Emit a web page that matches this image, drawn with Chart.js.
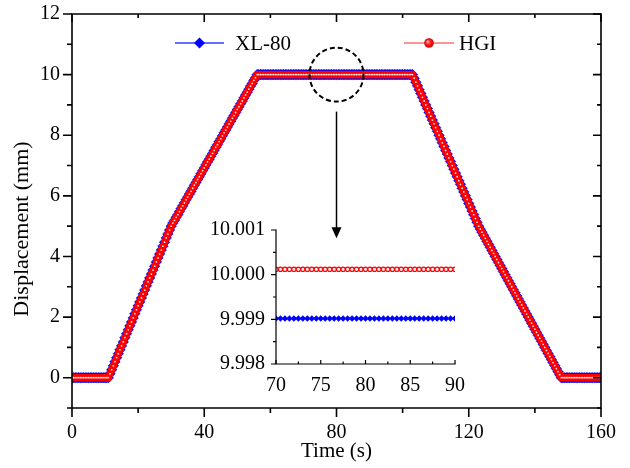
<!DOCTYPE html>
<html>
<head>
<meta charset="utf-8">
<title>Displacement vs time</title>
<script src="https://cdn.jsdelivr.net/npm/chart.js@4.4.1/dist/chart.umd.min.js"></script>
<style>
  html, body { margin: 0; padding: 0; background: #fff; }
  #wrap { position: relative; width: 630px; height: 468px; }
  #main { position: absolute; left: 0; top: 0; }
  #inset { position: absolute; left: 190px; top: 216px; }
</style>
</head>
<body>
<div id="wrap">
  <canvas id="main" width="630" height="468"></canvas>
  <canvas id="inset" width="280" height="190"></canvas>
</div>
<script>
// sample times (s), one every 0.5 s
const timeMain = [
  0,0.5,1,1.5,2,2.5,3,3.5,4,4.5,5,5.5,6,6.5,7,7.5,8,8.5,9,9.5,
  10,10.5,11,11.5,12,12.5,13,13.5,14,14.5,15,15.5,16,16.5,17,17.5,18,18.5,19,19.5,
  20,20.5,21,21.5,22,22.5,23,23.5,24,24.5,25,25.5,26,26.5,27,27.5,28,28.5,29,29.5,
  30,30.5,31,31.5,32,32.5,33,33.5,34,34.5,35,35.5,36,36.5,37,37.5,38,38.5,39,39.5,
  40,40.5,41,41.5,42,42.5,43,43.5,44,44.5,45,45.5,46,46.5,47,47.5,48,48.5,49,49.5,
  50,50.5,51,51.5,52,52.5,53,53.5,54,54.5,55,55.5,56,56.5,57,57.5,58,58.5,59,59.5,
  60,60.5,61,61.5,62,62.5,63,63.5,64,64.5,65,65.5,66,66.5,67,67.5,68,68.5,69,69.5,
  70,70.5,71,71.5,72,72.5,73,73.5,74,74.5,75,75.5,76,76.5,77,77.5,78,78.5,79,79.5,
  80,80.5,81,81.5,82,82.5,83,83.5,84,84.5,85,85.5,86,86.5,87,87.5,88,88.5,89,89.5,
  90,90.5,91,91.5,92,92.5,93,93.5,94,94.5,95,95.5,96,96.5,97,97.5,98,98.5,99,99.5,
  100,100.5,101,101.5,102,102.5,103,103.5,104,104.5,105,105.5,106,106.5,107,107.5,108,108.5,109,109.5,
  110,110.5,111,111.5,112,112.5,113,113.5,114,114.5,115,115.5,116,116.5,117,117.5,118,118.5,119,119.5,
  120,120.5,121,121.5,122,122.5,123,123.5,124,124.5,125,125.5,126,126.5,127,127.5,128,128.5,129,129.5,
  130,130.5,131,131.5,132,132.5,133,133.5,134,134.5,135,135.5,136,136.5,137,137.5,138,138.5,139,139.5,
  140,140.5,141,141.5,142,142.5,143,143.5,144,144.5,145,145.5,146,146.5,147,147.5,148,148.5,149,149.5,
  150,150.5,151,151.5,152,152.5,153,153.5,154,154.5,155,155.5,156,156.5,157,157.5,158,158.5,159,159.5,
  160
];

// XL-80 displacement (mm)
const xl80Main = [
  0,0,0,0,0,0,0,0,0,0,0,0,0,0,0,0,0,0,0,0,
  0,0,0,0.13,0.26,0.39,0.53,0.66,0.79,0.92,1.05,1.18,1.32,1.45,1.58,1.71,1.84,1.97,2.11,2.24,
  2.37,2.50,2.63,2.76,2.89,3.03,3.16,3.29,3.42,3.55,3.68,3.82,3.95,4.08,4.21,4.34,4.47,4.61,4.74,4.87,
  5.00,5.10,5.19,5.29,5.38,5.48,5.58,5.67,5.77,5.87,5.96,6.06,6.15,6.25,6.35,6.44,6.54,6.63,6.73,6.83,
  6.92,7.02,7.12,7.21,7.31,7.40,7.50,7.60,7.69,7.79,7.88,7.98,8.08,8.17,8.27,8.37,8.46,8.56,8.65,8.75,
  8.85,8.94,9.04,9.13,9.23,9.33,9.42,9.52,9.62,9.71,9.81,9.90,9.99902,9.99902,9.99902,9.99902,9.99902,9.99902,9.99902,9.99902,
  9.99902,9.99902,9.99902,9.99902,9.99902,9.99902,9.99902,9.99902,9.99902,9.99902,9.99902,9.99902,9.99902,9.99902,9.99902,9.99902,9.99902,9.99902,9.99902,9.99902,
  9.99902,9.99902,9.99902,9.99902,9.99902,9.99902,9.99902,9.99902,9.99902,9.99902,9.99902,9.99902,9.99902,9.99902,9.99902,9.99902,9.99902,9.99902,9.99902,9.99902,
  9.99902,9.99902,9.99902,9.99902,9.99902,9.99902,9.99902,9.99902,9.99902,9.99902,9.99902,9.99902,9.99902,9.99902,9.99902,9.99902,9.99902,9.99902,9.99902,9.99902,
  9.99902,9.99902,9.99902,9.99902,9.99902,9.99902,9.99902,9.99902,9.99902,9.99902,9.99902,9.99902,9.99902,9.99902,9.99902,9.99902,9.99902,9.99902,9.99902,9.99902,
  9.99902,9.99902,9.99902,9.99902,9.99902,9.99902,9.99902,9.88,9.75,9.63,9.50,9.38,9.25,9.13,9.00,8.88,8.75,8.63,8.50,8.38,
  8.25,8.13,8.00,7.88,7.75,7.63,7.50,7.38,7.25,7.13,7.00,6.88,6.75,6.63,6.50,6.38,6.25,6.13,6.00,5.88,
  5.75,5.63,5.50,5.38,5.25,5.13,5.00,4.90,4.80,4.70,4.60,4.50,4.40,4.30,4.20,4.10,4.00,3.90,3.80,3.70,
  3.60,3.50,3.40,3.30,3.20,3.10,3.00,2.90,2.80,2.70,2.60,2.50,2.40,2.30,2.20,2.10,2.00,1.90,1.80,1.70,
  1.60,1.50,1.40,1.30,1.20,1.10,1.00,0.90,0.80,0.70,0.60,0.50,0.40,0.30,0.20,0.10,0,0,0,0,
  0,0,0,0,0,0,0,0,0,0,0,0,0,0,0,0,0,0,0,0,
  0
];

// HGI displacement (mm)
const hgiMain = [
  0,0,0,0,0,0,0,0,0,0,0,0,0,0,0,0,0,0,0,0,
  0,0,0,0.13,0.26,0.39,0.53,0.66,0.79,0.92,1.05,1.18,1.32,1.45,1.58,1.71,1.84,1.97,2.11,2.24,
  2.37,2.50,2.63,2.76,2.89,3.03,3.16,3.29,3.42,3.55,3.68,3.82,3.95,4.08,4.21,4.34,4.47,4.61,4.74,4.87,
  5.00,5.10,5.19,5.29,5.38,5.48,5.58,5.67,5.77,5.87,5.96,6.06,6.15,6.25,6.35,6.44,6.54,6.63,6.73,6.83,
  6.92,7.02,7.12,7.21,7.31,7.40,7.50,7.60,7.69,7.79,7.88,7.98,8.08,8.17,8.27,8.37,8.46,8.56,8.65,8.75,
  8.85,8.94,9.04,9.13,9.23,9.33,9.42,9.52,9.62,9.71,9.81,9.90,10.00012,10.00012,10.00012,10.00012,10.00012,10.00012,10.00012,10.00012,
  10.00012,10.00012,10.00012,10.00012,10.00012,10.00012,10.00012,10.00012,10.00012,10.00012,10.00012,10.00012,10.00012,10.00012,10.00012,10.00012,10.00012,10.00012,10.00012,10.00012,
  10.00012,10.00012,10.00012,10.00012,10.00012,10.00012,10.00012,10.00012,10.00012,10.00012,10.00012,10.00012,10.00012,10.00012,10.00012,10.00012,10.00012,10.00012,10.00012,10.00012,
  10.00012,10.00012,10.00012,10.00012,10.00012,10.00012,10.00012,10.00012,10.00012,10.00012,10.00012,10.00012,10.00012,10.00012,10.00012,10.00012,10.00012,10.00012,10.00012,10.00012,
  10.00012,10.00012,10.00012,10.00012,10.00012,10.00012,10.00012,10.00012,10.00012,10.00012,10.00012,10.00012,10.00012,10.00012,10.00012,10.00012,10.00012,10.00012,10.00012,10.00012,
  10.00012,10.00012,10.00012,10.00012,10.00012,10.00012,10.00012,9.88,9.75,9.63,9.50,9.38,9.25,9.13,9.00,8.88,8.75,8.63,8.50,8.38,
  8.25,8.13,8.00,7.88,7.75,7.63,7.50,7.38,7.25,7.13,7.00,6.88,6.75,6.63,6.50,6.38,6.25,6.13,6.00,5.88,
  5.75,5.63,5.50,5.38,5.25,5.13,5.00,4.90,4.80,4.70,4.60,4.50,4.40,4.30,4.20,4.10,4.00,3.90,3.80,3.70,
  3.60,3.50,3.40,3.30,3.20,3.10,3.00,2.90,2.80,2.70,2.60,2.50,2.40,2.30,2.20,2.10,2.00,1.90,1.80,1.70,
  1.60,1.50,1.40,1.30,1.20,1.10,1.00,0.90,0.80,0.70,0.60,0.50,0.40,0.30,0.20,0.10,0,0,0,0,
  0,0,0,0,0,0,0,0,0,0,0,0,0,0,0,0,0,0,0,0,
  0
];

// zoomed plateau shown in the inset
const insetTime = [
  70,70.5,71,71.5,72,72.5,73,73.5,74,74.5,75,75.5,76,76.5,77,77.5,78,78.5,79,79.5,
  80,80.5,81,81.5,82,82.5,83,83.5,84,84.5,85,85.5,86,86.5,87,87.5,88,88.5,89,89.5,90
];
const insetXl80 = [
  9.99902,9.99902,9.99902,9.99902,9.99902,9.99902,9.99902,9.99902,9.99902,9.99902,
  9.99902,9.99902,9.99902,9.99902,9.99902,9.99902,9.99902,9.99902,9.99902,9.99902,
  9.99902,9.99902,9.99902,9.99902,9.99902,9.99902,9.99902,9.99902,9.99902,9.99902,
  9.99902,9.99902,9.99902,9.99902,9.99902,9.99902,9.99902,9.99902,9.99902,9.99902,9.99902
];
const insetHgi = [
  10.00012,10.00012,10.00012,10.00012,10.00012,10.00012,10.00012,10.00012,10.00012,10.00012,
  10.00012,10.00012,10.00012,10.00012,10.00012,10.00012,10.00012,10.00012,10.00012,10.00012,
  10.00012,10.00012,10.00012,10.00012,10.00012,10.00012,10.00012,10.00012,10.00012,10.00012,
  10.00012,10.00012,10.00012,10.00012,10.00012,10.00012,10.00012,10.00012,10.00012,10.00012,10.00012
];

// axis ticks
const xTicksMain = [0, 40, 80, 120, 160];
const xMinorMain = [20, 60, 100, 140];
const yTicksMain = [0, 2, 4, 6, 8, 10, 12];
const yMinorMain = [-1, 1, 3, 5, 7, 9, 11];
const xTicksInset = [70, 75, 80, 85, 90];
const xMinorInset = [72.5, 77.5, 82.5, 87.5];
const yTicksInset = [9.998, 9.999, 10.000, 10.001];
const yLabelsInset = ["9.998", "9.999", "10.000", "10.001"];
const yMinorInset = [9.9985, 9.9995, 10.0005];

const seriesNames = ["XL-80", "HGI"];
const BLUE = "#0000ff";
const RED = "#ff0000";
const FONT = '"Liberation Serif", "Times New Roman", serif';

Chart.defaults.font.family = FONT;
Chart.defaults.font.size = 20;
Chart.defaults.color = "#000";

function toPoints(xs, ys) {
  return xs.map((x, i) => ({ x: x, y: ys[i] }));
}

// draws axis lines and in/out tick marks for the given sides
function drawAxes(chart, sides, lineWidth) {
  const { ctx, chartArea: a, scales } = chart;
  ctx.save();
  ctx.strokeStyle = "#000";
  ctx.lineWidth = lineWidth;

  ctx.beginPath();
  sides.forEach((side) => {
    const horiz = side.edge === "top" || side.edge === "bottom";
    const scale = horiz ? scales.x : scales.y;
    const base = a[side.edge];
    const outward = side.edge === "bottom" || side.edge === "right" ? 1 : -1;
    const dir = side.out ? outward : -outward;
    [[side.major, side.majorLen], [side.minor, side.minorLen]].forEach(([vals, len]) => {
      vals.forEach((v) => {
        const p = scale.getPixelForValue(v);
        if (horiz) {
          ctx.moveTo(p, base);
          ctx.lineTo(p, base + dir * len);
        } else {
          ctx.moveTo(base, p);
          ctx.lineTo(base + dir * len, p);
        }
      });
    });
  });
  ctx.stroke();

  ctx.lineCap = "square";
  ctx.beginPath();
  sides.forEach((side) => {
    const base = a[side.edge];
    if (side.edge === "top" || side.edge === "bottom") {
      ctx.moveTo(a.left, base);
      ctx.lineTo(a.right, base);
    } else {
      ctx.moveTo(base, a.top);
      ctx.lineTo(base, a.bottom);
    }
  });
  ctx.stroke();
  ctx.restore();
}

const mainSides = [
  { edge: "left", out: true, major: yTicksMain, minor: yMinorMain, majorLen: 9, minorLen: 5 },
  { edge: "right", out: false, major: yTicksMain, minor: yMinorMain, majorLen: 8, minorLen: 4 },
  { edge: "bottom", out: true, major: xTicksMain, minor: xMinorMain, majorLen: 9, minorLen: 5 },
  { edge: "top", out: false, major: xTicksMain, minor: xMinorMain, majorLen: 8, minorLen: 4 },
];

const insetSides = [
  { edge: "left", out: true, major: yTicksInset, minor: yMinorInset, majorLen: 5, minorLen: 3 },
  { edge: "bottom", out: false, major: xTicksInset, minor: xMinorInset, majorLen: 4, minorLen: 2.5 },
];

const mainDecor = {
  id: "mainDecor",
  afterDraw(chart) {
    const { ctx, chartArea: a, scales: { x, y } } = chart;
    drawAxes(chart, mainSides, 1.6);

    ctx.save();
    ctx.fillStyle = "#000";
    ctx.strokeStyle = "#000";

    // dashed circle round the zoomed plateau and the arrow down to the inset
    const cx = x.getPixelForValue(80);
    const cy = y.getPixelForValue(10);
    ctx.lineWidth = 2;
    ctx.setLineDash([5, 3]);
    ctx.beginPath();
    ctx.arc(cx, cy, 27, 0, Math.PI * 2);
    ctx.stroke();
    ctx.setLineDash([]);

    const tipY = y.getPixelForValue(4.6);
    ctx.lineWidth = 1.5;
    ctx.beginPath();
    ctx.moveTo(cx, cy + 37);
    ctx.lineTo(cx, tipY - 8);
    ctx.stroke();
    ctx.beginPath();
    ctx.moveTo(cx - 5, tipY - 11);
    ctx.lineTo(cx + 5, tipY - 11);
    ctx.lineTo(cx, tipY);
    ctx.closePath();
    ctx.fill();

    // legend
    const ly = 43;
    ctx.font = "21px " + FONT;
    ctx.textBaseline = "middle";
    ctx.textAlign = "left";

    ctx.strokeStyle = "#3040ff";
    ctx.lineWidth = 1.5;
    ctx.beginPath();
    ctx.moveTo(175, ly);
    ctx.lineTo(224, ly);
    ctx.stroke();
    ctx.fillStyle = BLUE;
    ctx.beginPath();
    ctx.moveTo(199.5, ly - 5.5);
    ctx.lineTo(205, ly);
    ctx.lineTo(199.5, ly + 5.5);
    ctx.lineTo(194, ly);
    ctx.closePath();
    ctx.fill();
    ctx.fillStyle = "#000";
    ctx.fillText(seriesNames[0], 235, ly + 1);

    ctx.strokeStyle = "#ff2a2a";
    ctx.lineWidth = 1.2;
    ctx.beginPath();
    ctx.moveTo(404, ly);
    ctx.lineTo(454, ly);
    ctx.stroke();
    const g = ctx.createRadialGradient(427.5, ly - 1.5, 0.3, 429, ly, 4.8);
    g.addColorStop(0, "#ffc0c0");
    g.addColorStop(0.45, "#ff2020");
    g.addColorStop(1, "#d00000");
    ctx.fillStyle = g;
    ctx.beginPath();
    ctx.arc(429, ly, 4.8, 0, Math.PI * 2);
    ctx.fill();
    ctx.fillStyle = "#000";
    ctx.fillText(seriesNames[1], 459, ly + 1);

    // axis titles
    ctx.textBaseline = "alphabetic";
    ctx.textAlign = "center";
    ctx.font = "21px " + FONT;
    ctx.fillText("Time (s)", (a.left + a.right) / 2, 457);
    ctx.font = "22px " + FONT;
    ctx.translate(28, 229);
    ctx.rotate(-Math.PI / 2);
    ctx.fillText("Displacement (mm)", 0, 0);
    ctx.restore();
  },
};

const insetDecor = {
  id: "insetDecor",
  afterDraw(chart) {
    drawAxes(chart, insetSides, 1.2);
  },
};

function fixedTicks(values) {
  return (scale) => {
    scale.ticks = values.map((v) => ({ value: v }));
  };
}

// fixed scale thickness, no extra room for overhanging labels
function fixedSize(size) {
  return (scale) => {
    if (scale.isHorizontal()) scale.height = size;
    else scale.width = size;
    scale.paddingTop = 0;
    scale.paddingBottom = 0;
    scale.paddingLeft = 0;
    scale.paddingRight = 0;
  };
}

new Chart(document.getElementById("main"), {
  type: "scatter",
  data: {
    datasets: [
      {
        label: "HGI highlight",
        data: toPoints(timeMain, hgiMain),
        showLine: false,
        pointStyle: "circle",
        pointRadius: 0.9,
        pointBorderWidth: 0,
        pointBackgroundColor: "#ffdede",
        order: 0,
      },
      {
        label: seriesNames[1],
        data: toPoints(timeMain, hgiMain),
        showLine: true,
        borderColor: RED,
        borderWidth: 1,
        pointStyle: "circle",
        pointRadius: 3.4,
        pointBorderWidth: 1,
        pointBorderColor: RED,
        pointBackgroundColor: RED,
        order: 1,
      },
      {
        label: seriesNames[0],
        data: toPoints(timeMain, xl80Main),
        showLine: true,
        borderColor: BLUE,
        borderWidth: 1.5,
        pointStyle: "rectRot",
        pointRadius: 5.3,
        pointBorderWidth: 0.5,
        pointBorderColor: BLUE,
        pointBackgroundColor: BLUE,
        order: 2,
      },
    ],
  },
  options: {
    responsive: false,
    animation: false,
    devicePixelRatio: 1,
    events: [],
    layout: { padding: { top: 14, right: 29, left: 0, bottom: 0 } },
    plugins: { legend: { display: false }, tooltip: { enabled: false } },
    scales: {
      x: {
        type: "linear",
        min: 0,
        max: 160,
        afterBuildTicks: fixedTicks(xTicksMain),
        afterFit: fixedSize(60),
        grid: { display: false, drawTicks: false },
        border: { display: false },
        ticks: { padding: 13, autoSkip: false, maxRotation: 0, callback: (v) => String(v) },
      },
      y: {
        min: -1,
        max: 12,
        afterBuildTicks: fixedTicks(yTicksMain),
        afterFit: fixedSize(72),
        grid: { display: false, drawTicks: false },
        border: { display: false },
        ticks: { padding: 12, autoSkip: false, callback: (v) => String(v) },
      },
    },
  },
  plugins: [mainDecor],
});

new Chart(document.getElementById("inset"), {
  type: "scatter",
  data: {
    datasets: [
      {
        label: seriesNames[1],
        data: toPoints(insetTime, insetHgi),
        showLine: true,
        borderColor: RED,
        borderWidth: 1,
        pointStyle: "circle",
        pointRadius: 2.2,
        pointBorderWidth: 1.2,
        pointBorderColor: RED,
        pointBackgroundColor: "#ffe4e4",
        order: 0,
      },
      {
        label: seriesNames[0],
        data: toPoints(insetTime, insetXl80),
        showLine: true,
        borderColor: BLUE,
        borderWidth: 1,
        pointStyle: "rectRot",
        pointRadius: 3.2,
        pointBorderWidth: 0,
        pointBackgroundColor: BLUE,
        order: 1,
      },
    ],
  },
  options: {
    responsive: false,
    animation: false,
    devicePixelRatio: 1,
    events: [],
    layout: { padding: { top: 14, right: 15, left: 0, bottom: 0 } },
    plugins: { legend: { display: false }, tooltip: { enabled: false } },
    scales: {
      x: {
        type: "linear",
        min: 70,
        max: 90,
        afterBuildTicks: fixedTicks(xTicksInset),
        afterFit: fixedSize(42),
        grid: { display: false, drawTicks: false },
        border: { display: false },
        ticks: { padding: 10, autoSkip: false, maxRotation: 0, callback: (v) => String(v) },
      },
      y: {
        min: 9.998,
        max: 10.001,
        afterBuildTicks: fixedTicks(yTicksInset),
        afterFit: fixedSize(86),
        grid: { display: false, drawTicks: false },
        border: { display: false },
        ticks: { padding: 11, autoSkip: false, callback: (v, i) => yLabelsInset[i] },
      },
    },
  },
  plugins: [insetDecor],
});
</script>
</body>
</html>
